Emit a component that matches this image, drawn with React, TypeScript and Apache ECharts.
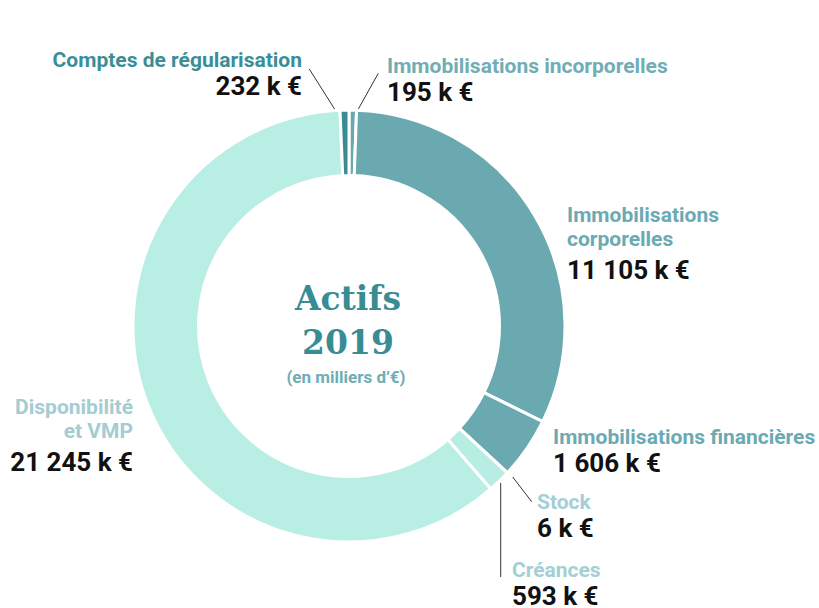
import React, { useEffect, useRef } from "react";
import * as echarts from "echarts";

// ---- data ----
const NAMES = [
  "Immobilisations incorporelles",
  "Immobilisations corporelles",
  "Immobilisations financières",
  "Stock",
  "Créances",
  "Disponibilité et VMP",
  "Comptes de régularisation",
];
const LABEL_NAMES = [
  "Immobilisations incorporelles",
  "Immobilisations\ncorporelles",
  "Immobilisations financières",
  "Stock",
  "Créances",
  "Disponibilité\net VMP",
  "Comptes de régularisation",
];
const VALUES = [195, 11105, 1606, 6, 593, 21245, 232];
const UNIT = "k €";
const TITLE_LINES = ["Actifs", "2019"];
const SUBTITLE = "(en milliers d’€)";

// ---- styles ----
const SLICE_COLORS = ["#6aa8b0", "#6aa9b0", "#6aa9b0", "#b7ede3", "#b7ede3", "#b8eee4", "#3a8c94"];
const LABEL_COLORS = ["#70adb5", "#6aaab2", "#6aaab2", "#a3cfd5", "#a3cfd5", "#a3ccd3", "#3a8e96"];

type Pos = { x: number; y: number; align: string; vKey: string; line?: number[][] };
const LABEL_POS: Pos[] = [
  { x: 387, y: 53.5, align: "left", vKey: "v", line: [[355, 115], [378.3, 73.3], [378.3, 73.3]] },
  { x: 567, y: 202.5, align: "left", vKey: "w" },
  { x: 553, y: 425, align: "left", vKey: "v" },
  { x: 537, y: 490, align: "left", vKey: "v", line: [[512.7, 477], [531.7, 501.7], [531.7, 501.7]] },
  { x: 512, y: 558, align: "left", vKey: "v", line: [[500.7, 483], [500.7, 577], [500.7, 577]] },
  { x: 133, y: 394.5, align: "right", vKey: "w" },
  { x: 302, y: 48, align: "right", vKey: "v", line: [[337.7, 114], [309.3, 69], [309.3, 69]] },
];

const fmt = (v: number) => String(v).replace(/\B(?=(\d{3})+(?!\d))/g, " ");

export default function App() {
  const ref = useRef<HTMLDivElement>(null);
  useEffect(() => {
    if (!ref.current) return;
    const chart = echarts.init(ref.current, undefined, { renderer: "svg" });
    const font = "Roboto";
    const rich: any = {
      v: { fontFamily: font, fontWeight: "bold", fontSize: 26, color: "#111", lineHeight: 28 },
      w: { fontFamily: font, fontWeight: "bold", fontSize: 26, color: "#111", lineHeight: 38 },
    };
    LABEL_COLORS.forEach((c, i) => {
      rich["n" + i] = { fontFamily: font, fontWeight: "bold", fontSize: 21, color: c, lineHeight: 24 };
    });
    const data = NAMES.map((name, i) => ({
      name,
      value: VALUES[i],
      itemStyle: { color: SLICE_COLORS[i] },
      labelLine: { show: !!LABEL_POS[i].line },
    }));
    chart.setOption({
      animation: false,
      backgroundColor: "#ffffff",
      graphic: [
        {
          type: "text",
          x: 348,
          y: 298,
          style: {
            text: TITLE_LINES[0],
            fontFamily: "DejaVu Serif",
            fontWeight: "bold",
            fontSize: 33,
            fill: "#3a8c94",
            align: "center",
            verticalAlign: "middle",
          },
        },
        {
          type: "text",
          x: 348,
          y: 342,
          style: {
            text: TITLE_LINES[1],
            fontFamily: "DejaVu Serif",
            fontWeight: "bold",
            fontSize: 33,
            fill: "#3a8c94",
            align: "center",
            verticalAlign: "middle",
          },
        },
        {
          type: "text",
          x: 346,
          y: 377,
          style: {
            text: SUBTITLE,
            fontFamily: font,
            fontWeight: "bold",
            fontSize: 17,
            fill: "#6fadb5",
            align: "center",
            verticalAlign: "middle",
          },
        },
      ],
      series: [
        {
          type: "pie",
          center: [349, 326],
          radius: [150.5, 216],
          startAngle: 90,
          clockwise: true,
          avoidLabelOverlap: false,
          itemStyle: { borderColor: "#ffffff", borderWidth: 3 },
          emphasis: { disabled: true },
          label: {
            show: true,
            position: "outside",
            formatter: (p: any) =>
              `{n${p.dataIndex}|${LABEL_NAMES[p.dataIndex]}}\n{${LABEL_POS[p.dataIndex].vKey}|${fmt(p.value)} ${UNIT}}`,
            rich,
          },
          labelLine: { show: true, smooth: false, lineStyle: { color: "#333", width: 1 } },
          labelLayout: (params: any) => {
            const p = LABEL_POS[params.dataIndex];
            const out: any = { x: p.x, y: p.y, align: p.align, verticalAlign: "top" };
            if (p.line) out.labelLinePoints = p.line;
            return out;
          },
          data,
        },
      ],
    });
    return () => chart.dispose();
  }, []);
  return <div ref={ref} style={{ position: "fixed", left: 0, top: 0, width: 819, height: 608 }} />;
}
